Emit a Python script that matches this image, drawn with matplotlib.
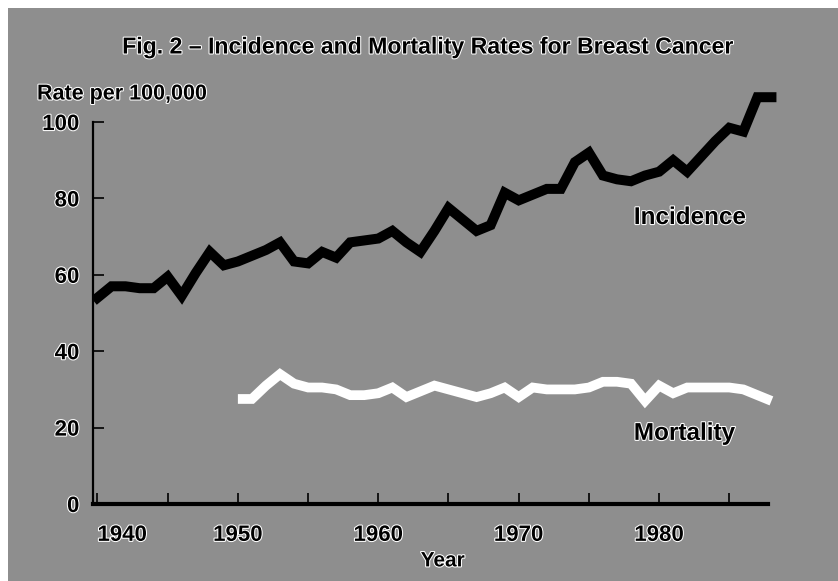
import matplotlib.pyplot as plt
import matplotlib.patheffects as pe
from matplotlib.patches import Rectangle
import numpy as np

# incidence, annual 1940-1988 (rate per 100,000)
inc_years = list(range(1940, 1989))
incidence = [54, 57, 57, 56.5, 56.5, 59.5, 54.5, 60.5, 66, 62.5,
             63.5, 65, 66.5, 68.5, 63.5, 63, 66, 64.5, 68.5, 69,
             69.5, 71.5, 68.5, 66, 71.5, 77.5, 74.5, 71.5, 73, 81.5,
             79.5, 81, 82.5, 82.5, 89.5, 92, 86, 85, 84.5, 86,
             87, 90, 87, 91, 95, 98.5, 97.5, 106.5, 106.5]

# mortality, annual 1950-1988
mort_years = list(range(1950, 1989))
mortality = [27.5, 27.5, 31, 34, 31.5, 30.5, 30.5, 30, 28.5, 28.5,
             29, 30.5, 28, 29.5, 31, 30, 29, 28, 29, 30.5,
             28, 30.5, 30, 30, 30, 30.5, 32, 32, 31.5, 27,
             31, 29, 30.5, 30.5, 30.5, 30.5, 30, 28.5, 27]

major_years = [1940, 1950, 1960, 1970, 1980]
minor_years = [1945, 1955, 1965, 1975, 1985]
y_ticks = [0, 20, 40, 60, 80, 100]

plt.rcParams['font.family'] = ['Liberation Sans', 'DejaVu Sans']
plt.rcParams['font.weight'] = 'bold'
halo = [pe.withStroke(linewidth=1.5, foreground='white')]
bg = '#8e8e8e'

fig = plt.figure(figsize=(8.38, 5.81), dpi=100)
fig.patch.set_facecolor('white')
# gray panel, thin white margin on the left and top
fig.patches.append(Rectangle((8 / 838, 0), 1, 1 - 8 / 581, transform=fig.transFigure,
                             facecolor=bg, edgecolor='none', zorder=-10))

ax = fig.add_axes([0.1113, 0.1325, 0.8344, 0.7232])
ax.set_facecolor('none')

ax.plot(inc_years, incidence, color='black', lw=7.2, solid_joinstyle='miter',
        solid_capstyle='projecting', zorder=3)
ax.plot(mort_years, mortality, color='white', lw=7.0, solid_joinstyle='miter',
        solid_capstyle='butt', zorder=3)

ax.set_xlim(1939.7, 1989.5)
ax.set_ylim(0, 110)

for s in ['top', 'right']:
    ax.spines[s].set_visible(False)
ax.spines['left'].set_bounds(0, 100)
ax.spines['left'].set_linewidth(1.6)
ax.spines['bottom'].set_bounds(1939.7, 1987.75)
ax.spines['bottom'].set_linewidth(3)

ax.set_yticks(y_ticks)
ax.set_xticks(major_years)
ax.set_xticks(minor_years, minor=True)
ax.tick_params(axis='both', which='both', direction='in', width=1.2, length=8)
ax.tick_params(axis='y', pad=10, labelsize=16)
ax.tick_params(axis='x', pad=15, labelsize=16)
for lab in ax.get_xticklabels() + ax.get_yticklabels():
    lab.set_fontweight('bold')
    lab.set_path_effects(halo)
ax.get_xticklabels()[0].set_horizontalalignment('left')

ax.set_xlabel('Year', fontsize=15, fontweight='bold', labelpad=4,
              path_effects=halo)

ax.text(1978.2, 75, 'Incidence', fontsize=17.5, fontweight='bold', va='center',
        path_effects=halo)
ax.text(1978.2, 18.5, 'Mortality', fontsize=17.5, fontweight='bold', va='center',
        path_effects=halo)

fig.text(37 / 838, 1 - 94 / 581, 'Rate per 100,000', fontsize=15.5, fontweight='bold',
         va='center', ha='left', path_effects=halo)
fig.text(426 / 838, 1 - 47 / 581,
         'Fig. 2 \u2013 Incidence and Mortality Rates for Breast Cancer',
         fontsize=16.6, fontweight='bold', va='center', ha='center', path_effects=halo)

fig.savefig('out.png', dpi=100, facecolor=fig.get_facecolor())
